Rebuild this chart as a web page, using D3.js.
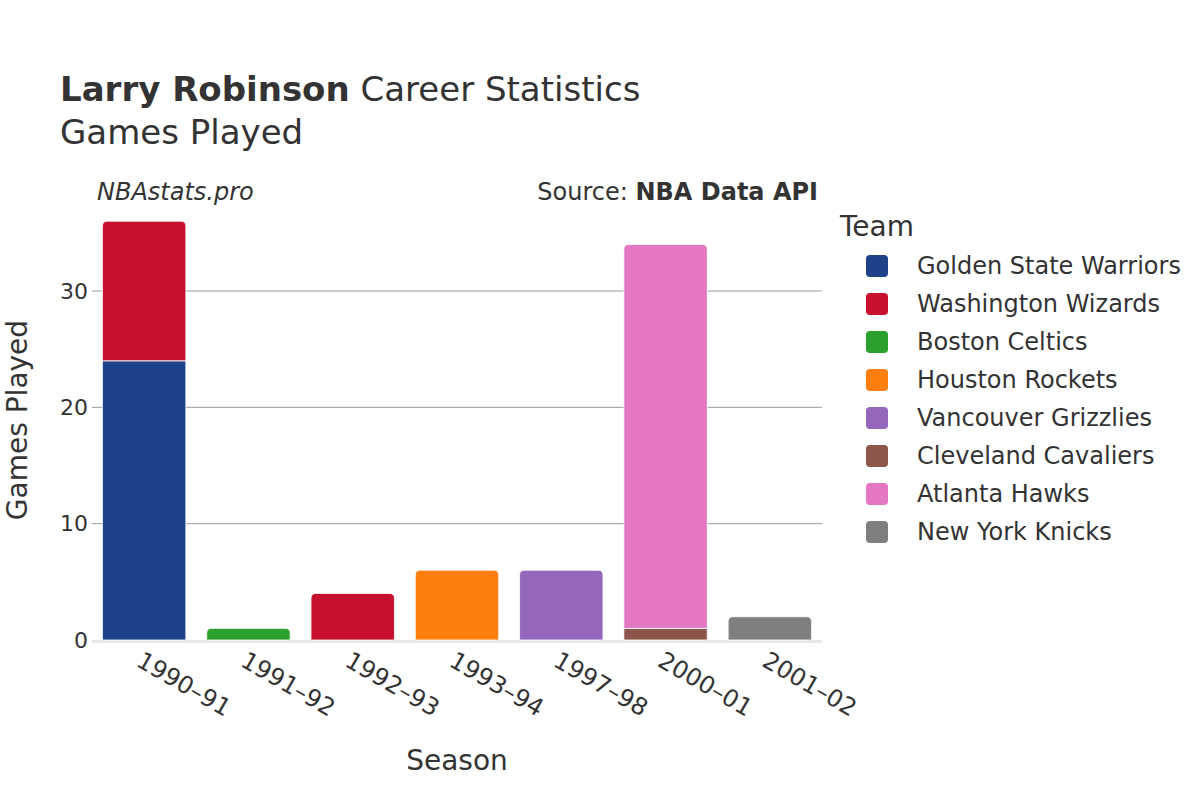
<!DOCTYPE html>
<html><head><meta charset="utf-8">
<script src="https://cdn.jsdelivr.net/npm/d3@7"></script>
<style>body{margin:0;background:#fff}svg{display:block}</style>
</head><body><svg id="c" width="1200" height="800"></svg>
<script>
const seasons = ["1990–91","1991–92","1992–93","1993–94","1997–98","2000–01","2001–02"];
const teams = ["Golden State Warriors","Washington Wizards","Boston Celtics","Houston Rockets","Vancouver Grizzlies","Cleveland Cavaliers","Atlanta Hawks","New York Knicks"];
const teamColors = ["#1d428a","#c8102e","#2ca02c","#ff7f0e","#9467bd","#8c564b","#e377c2","#7f7f7f"];
// games per season, in stacking order
const segSeason = ["1990–91","1990–91","1991–92","1992–93","1993–94","1997–98","2000–01","2000–01","2001–02"];
const segTeam = ["Golden State Warriors","Washington Wizards","Boston Celtics","Washington Wizards","Houston Rockets","Vancouver Grizzlies","Cleveland Cavaliers","Atlanta Hawks","New York Knicks"];
const segGames = [24,12,1,4,6,6,1,33,2];
const yTicks = [0,10,20,30];

const svg = d3.select("#c");
const font = "'DejaVu Sans', sans-serif";
const txt = "#333";
const L = 92, R = 822, B = 640;
const x = d3.scaleBand().domain(seasons).range([L, R]).paddingInner(0.2).paddingOuter(0.1);
const y = d3.scaleLinear().domain([0, 36]).range([B, B - 36*(B-291)/30]);
const color = d3.scaleOrdinal().domain(teams).range(teamColors);

// grid
svg.append("g").selectAll("line").data(yTicks.filter(d=>d>0)).join("line")
  .attr("x1", L).attr("x2", R).attr("y1", d=>y(d)).attr("y2", d=>y(d))
  .attr("stroke", "#9a9a9a").attr("stroke-width", 1);
svg.append("line").attr("x1", L).attr("x2", R).attr("y1", y(0)+1.5).attr("y2", y(0)+1.5)
  .attr("stroke", "#e8e8e8").attr("stroke-width", 3);

// segments
const segs = [];
const base = {};
segGames.forEach((g, i) => {
  const s = segSeason[i];
  const b = base[s] || 0;
  segs.push({season: s, team: segTeam[i], y0: b, y1: b + g});
  base[s] = b + g;
});
segs.forEach(d => d.top = d.y1 === base[d.season]);

function segPath(d) {
  const x0 = x(d.season), w = x.bandwidth();
  const yt = y(d.y1), yb = y(d.y0);
  const r = d.top ? Math.min(5, (yb - yt)/2) : 0;
  return `M${x0},${yb}V${yt + r}Q${x0},${yt} ${x0 + r},${yt}H${x0 + w - r}Q${x0 + w},${yt} ${x0 + w},${yt + r}V${yb}Z`;
}
svg.append("g").selectAll("path").data(segs).join("path")
  .attr("d", segPath).attr("fill", d => color(d.team))
  .attr("stroke", "#fff").attr("stroke-width", 0.8);

// y axis labels
svg.append("g").selectAll("text").data(yTicks).join("text")
  .attr("x", L - 4).attr("y", d => y(d)).attr("dy", "0.35em")
  .attr("text-anchor", "end").attr("font-family", font).attr("font-size", 22).attr("fill", txt)
  .text(d => d);

// x axis labels
svg.append("g").selectAll("text").data(seasons).join("text")
  .attr("transform", d => `translate(${x(d) + x.bandwidth()/2 - 5},${B + 18}) rotate(30)`)
  .attr("text-anchor", "start").attr("dy", "0.35em")
  .attr("font-family", font).attr("font-size", 24).attr("fill", txt)
  .text(d => d);

// axis titles
svg.append("text").attr("x", 457).attr("y", 770).attr("text-anchor", "middle")
  .attr("font-family", font).attr("font-size", 28).attr("fill", txt).text("Season");
svg.append("text").attr("transform", `translate(27,${420}) rotate(-90)`).attr("text-anchor", "middle")
  .attr("font-family", font).attr("font-size", 28).attr("fill", txt).text("Games Played");

// titles
const t = svg.append("text").attr("x", 60).attr("y", 101).attr("font-family", font).attr("font-size", 34).attr("fill", txt);
t.append("tspan").attr("font-weight", "bold").text("Larry Robinson");
t.append("tspan").text(" Career Statistics");
svg.append("text").attr("x", 60).attr("y", 144).attr("font-family", font).attr("font-size", 34).attr("fill", txt).text("Games Played");

svg.append("text").attr("x", 97).attr("y", 200).attr("font-family", font)
  .attr("font-style", "italic").attr("font-size", 24).attr("fill", txt).text("NBAstats.pro");
const s = svg.append("text").attr("x", 818).attr("y", 200).attr("text-anchor", "end")
  .attr("font-family", font).attr("font-size", 24).attr("fill", txt);
s.append("tspan").text("Source: ");
s.append("tspan").attr("font-weight", "bold").text("NBA Data API");

// legend
svg.append("text").attr("x", 840).attr("y", 236).attr("font-family", font).attr("font-size", 28).attr("fill", txt).text("Team");
const lg = svg.append("g").selectAll("g").data(teams).join("g")
  .attr("transform", (d, i) => `translate(866,${266 + i*38})`);
lg.append("rect").attr("x", 0).attr("y", -11).attr("width", 22).attr("height", 22).attr("rx", 4)
  .attr("fill", d => color(d));
lg.append("text").attr("x", 51).attr("y", 0).attr("dy", "0.35em")
  .attr("font-family", font).attr("font-size", 24).attr("fill", txt).text(d => d);
</script></body></html>
